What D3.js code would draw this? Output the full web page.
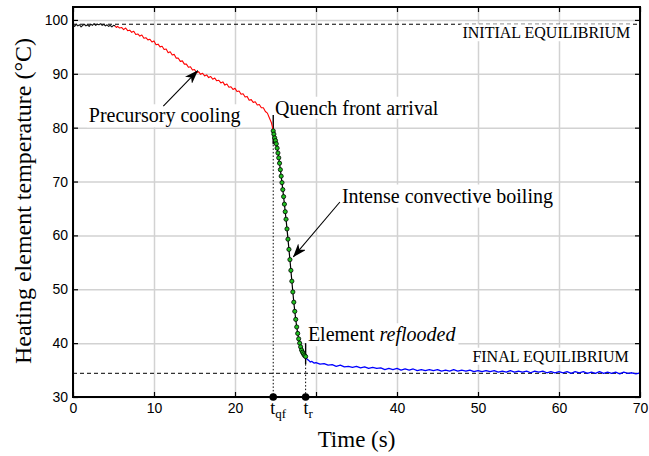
<!DOCTYPE html>
<html>
<head>
<meta charset="utf-8">
<script src="https://cdn.jsdelivr.net/npm/d3@7"></script>
<style>
  html, body { margin: 0; padding: 0; background: #fff; }
  svg { display: block; }
</style>
</head>
<body>
<div id="chart"></div>
<script>
// ---- Data ------------------------------------------------------------------
// initial equilibrium, black trace: [time s, temperature °C]
const initialTrace = [
  [0.0, 99.1], [0.2, 98.8], [0.4, 99.2], [0.6, 98.9], [0.8, 99.1], [1.0, 98.7],
  [1.2, 99.0], [1.4, 99.2], [1.6, 98.9], [1.8, 99.1], [2.0, 98.8], [2.2, 99.2],
  [2.4, 99.0], [2.6, 99.3], [2.8, 99.0], [3.0, 99.2], [3.2, 99.1], [3.4, 99.3],
  [3.6, 99.0], [3.8, 99.2], [4.0, 98.9], [4.2, 99.1], [4.4, 98.8], [4.6, 99.0],
  [4.8, 98.7], [5.0, 99.0], [5.2, 98.9]
];
// precursory cooling, red trace
const precursoryTrace = [
  [5.2, 98.9], [5.35, 98.6], [5.5, 98.8], [5.75, 98.5], [6.0, 98.6], [6.25, 98.2],
  [6.5, 98.5], [6.75, 98.0], [7.0, 98.1], [7.25, 97.7], [7.5, 97.9], [7.75, 97.3],
  [8.0, 97.4], [8.25, 97.0], [8.5, 97.2], [8.75, 96.6], [9.0, 96.7], [9.25, 96.3],
  [9.5, 96.4], [9.75, 95.9], [10.0, 96.1], [10.25, 95.4], [10.5, 95.5], [10.75, 95.0],
  [11.0, 95.1], [11.25, 94.5], [11.5, 94.6], [11.75, 93.9], [12.0, 94.1], [12.25, 93.5],
  [12.5, 93.6], [12.75, 92.9], [13.0, 92.9], [13.25, 92.3], [13.5, 92.4], [13.75, 91.8],
  [14.0, 91.8], [14.25, 91.2], [14.5, 91.3], [14.75, 90.7], [15.0, 90.8], [15.25, 90.2],
  [15.5, 90.4], [15.75, 89.9], [16.0, 90.1], [16.25, 89.6], [16.5, 89.8], [16.75, 89.3],
  [17.0, 89.5], [17.25, 89.0], [17.5, 89.2], [17.75, 88.7], [18.0, 88.8], [18.25, 88.3],
  [18.5, 88.5], [18.75, 87.9], [19.0, 88.1], [19.25, 87.5], [19.5, 87.6], [19.75, 87.1],
  [20.0, 87.3], [20.25, 86.7], [20.5, 86.8], [20.75, 86.2], [21.0, 86.3], [21.25, 85.7],
  [21.5, 85.8], [21.75, 85.1], [22.0, 85.2], [22.25, 84.7], [22.5, 84.8], [22.75, 84.2],
  [23.0, 84.3], [23.25, 83.7], [23.5, 83.7], [23.75, 83.0], [24.0, 82.7], [24.25, 81.8],
  [24.5, 80.9], [24.62, 80.1], [24.72, 79.4]
];
// intense convective boiling, green markers on black line
const boilingTrace = [
  [24.72, 79.4], [24.80, 78.8], [24.90, 78.1], [25.00, 77.6], [25.10, 77.0], [25.20, 76.2],
  [25.30, 75.3], [25.40, 74.4], [25.50, 73.4], [25.60, 72.2], [25.70, 71.0], [25.80, 69.8],
  [25.90, 68.5], [26.00, 67.2], [26.10, 65.8], [26.20, 64.4], [26.30, 63.0], [26.42, 61.2],
  [26.54, 59.3], [26.66, 57.4], [26.78, 55.5], [26.90, 53.5], [27.02, 51.5], [27.14, 49.5],
  [27.26, 47.6], [27.38, 45.9], [27.50, 44.4], [27.62, 43.0], [27.74, 41.8], [27.86, 40.8],
  [27.98, 40.0], [28.10, 39.3], [28.22, 38.7], [28.34, 38.3], [28.46, 38.0], [28.58, 37.7],
  [28.72, 37.5]
];
// reflooded, blue trace
const refloodTrace = [
  [28.72, 37.5], [28.9, 37.0], [29.1, 36.8], [29.3, 36.5], [29.5, 36.6], [29.75, 36.3],
  [30.0, 36.4], [30.5, 36.1], [31.0, 36.2], [31.5, 35.9], [32.0, 36.0], [32.5, 35.7],
  [33.0, 35.9], [33.5, 35.6], [34.0, 35.7], [34.5, 35.5], [35.0, 35.7], [35.5, 35.4],
  [36.0, 35.6], [36.5, 35.3], [37.0, 35.5], [37.5, 35.3], [38.0, 35.4], [38.5, 35.1],
  [39.0, 35.3], [39.5, 35.1], [40.0, 35.3], [40.5, 35.0], [41.0, 35.2], [41.5, 35.0],
  [42.0, 35.2], [42.5, 34.9], [43.0, 35.1], [43.5, 34.9], [44.0, 35.1], [44.5, 34.9],
  [45.0, 35.1], [45.5, 34.8], [46.0, 35.0], [46.5, 34.8], [47.0, 35.1], [47.5, 34.8],
  [48.0, 35.0], [48.5, 34.8], [49.0, 35.0], [49.5, 34.7], [50.0, 34.9], [50.5, 34.7],
  [51.0, 34.9], [51.5, 34.7], [52.0, 34.9], [52.5, 34.6], [53.0, 34.8], [53.5, 34.6],
  [54.0, 34.9], [54.5, 34.6], [55.0, 34.8], [55.5, 34.6], [56.0, 34.8], [56.5, 34.5],
  [57.0, 34.8], [57.5, 34.6], [58.0, 34.8], [58.5, 34.5], [59.0, 34.7], [59.5, 34.5],
  [60.0, 34.7], [60.5, 34.5], [61.0, 34.7], [61.5, 34.4], [62.0, 34.7], [62.5, 34.5],
  [63.0, 34.7], [63.5, 34.4], [64.0, 34.6], [64.5, 34.4], [65.0, 34.7], [65.5, 34.4],
  [66.0, 34.6], [66.5, 34.4], [67.0, 34.6], [67.5, 34.3], [68.0, 34.6], [68.5, 34.4],
  [69.0, 34.5], [69.5, 34.3], [70.0, 34.5]
];
const initialEquilibrium = 99.2;
const finalEquilibrium = 34.4;
const tQuench = 24.72;
const tReflood = 28.72;

const xTicks = [0, 10, 20, 30, 40, 50, 60, 70];
const xTickLabels = ["0", "10", "20", "", "40", "50", "60", "70"];
const yTicks = [30, 40, 50, 60, 70, 80, 90, 100];

// ---- Layout ----------------------------------------------------------------
const W = 649, H = 456;
const M = { left: 73, right: 9, top: 7, bottom: 59 };
const SERIF = "'Liberation Serif', 'Times New Roman', serif";
const SANS = "'Liberation Sans', Arial, sans-serif";

const svg = d3.select("#chart").append("svg").attr("width", W).attr("height", H);
const x = d3.scaleLinear().domain([0, 70]).range([M.left, W - M.right]);
const y = d3.scaleLinear().domain([30, 102.4]).range([H - M.bottom, M.top]);
const X0 = x.range()[0], X1 = x.range()[1], Y0 = y.range()[0], Y1 = y.range()[1];

// ---- Grid ------------------------------------------------------------------
svg.append("g")
  .attr("transform", `translate(0,${Y0})`)
  .call(d3.axisBottom(x).tickValues(xTicks).tickSize(-(Y0 - Y1)).tickFormat(""))
  .call((g) => g.select(".domain").remove())
  .call((g) => g.selectAll("line").attr("stroke", "#d2d2d2").attr("stroke-width", 1.5));
svg.append("g")
  .attr("transform", `translate(${X0},0)`)
  .call(d3.axisLeft(y).tickValues(yTicks).tickSize(-(X1 - X0)).tickFormat(""))
  .call((g) => g.select(".domain").remove())
  .call((g) => g.selectAll("line").attr("stroke", "#d2d2d2").attr("stroke-width", 1.5));

// ---- Equilibrium lines -----------------------------------------------------
[initialEquilibrium, finalEquilibrium].forEach((v) => {
  svg.append("line")
    .attr("x1", X0).attr("x2", X1).attr("y1", y(v)).attr("y2", y(v))
    .attr("stroke", "#000").attr("stroke-width", 1).attr("stroke-dasharray", "4,3");
});

// ---- Label with white box --------------------------------------------------
function label(t, v, str, opts = {}) {
  const g = svg.append("g");
  const box = g.append("rect").attr("fill", "#fff");
  const txt = g.append("text")
    .attr("x", x(t)).attr("y", y(v))
    .attr("text-anchor", opts.anchor || "start")
    .style("font-family", SERIF).style("font-size", (opts.size || 20) + "px")
    .attr("fill", "#000");
  if (Array.isArray(str)) {
    str.forEach((s) => txt.append("tspan").attr("font-style", s.italic ? "italic" : null).text(s.t));
  } else {
    txt.text(str);
  }
  const b = txt.node().getBBox();
  const p = opts.pad || 2;
  box.attr("x", b.x - p).attr("y", b.y - p + 2).attr("width", b.width + 2 * p).attr("height", b.height + 2 * p - 4);
  return g;
}

label(68.8, 96.6, "INITIAL EQUILIBRIUM", { anchor: "end", size: 16 });
label(68.6, 36.55, "FINAL EQUILIBRIUM", { anchor: "end", size: 16 });
label(1.95, 81.0, "Precursory cooling");
label(24.95, 82.4, "Quench front arrival");
label(33.2, 66.1, "Intense convective boiling");
label(29.0, 40.35, [{ t: "Element " }, { t: "reflooded", italic: true }]);

// ---- Markers for event times ----------------------------------------------
svg.append("line")
  .attr("x1", x(tQuench)).attr("x2", x(tQuench)).attr("y1", y(79.4)).attr("y2", Y0)
  .attr("stroke", "#000").attr("stroke-width", 1).attr("stroke-dasharray", "1.5,2");
svg.append("line")
  .attr("x1", x(tReflood)).attr("x2", x(tReflood)).attr("y1", y(36.1)).attr("y2", Y0)
  .attr("stroke", "#000").attr("stroke-width", 1).attr("stroke-dasharray", "1.5,2");
svg.append("line")
  .attr("x1", x(tQuench)).attr("x2", x(tQuench)).attr("y1", y(82.35)).attr("y2", y(76.9))
  .attr("stroke", "#000").attr("stroke-width", 1.4);
svg.append("line")
  .attr("x1", x(tReflood)).attr("x2", x(tReflood)).attr("y1", y(40.0)).attr("y2", y(36.1))
  .attr("stroke", "#000").attr("stroke-width", 1.4);

// ---- Traces ----------------------------------------------------------------
const line = d3.line().x((d) => x(d[0])).y((d) => y(d[1]));
const trace = (data, color, w) =>
  svg.append("path").datum(data).attr("d", line)
    .attr("fill", "none").attr("stroke", color).attr("stroke-width", w).attr("stroke-linejoin", "round");

trace(initialTrace, "#111", 1.1);
trace(precursoryTrace, "#ff0000", 1.1);
trace(refloodTrace, "#0000ff", 1.3);
trace(boilingTrace, "#000", 1.2);
svg.append("g")
  .selectAll("circle")
  .data(boilingTrace)
  .join("circle")
  .attr("cx", (d) => x(d[0])).attr("cy", (d) => y(d[1])).attr("r", 2.1)
  .attr("fill", "#1fc01f").attr("stroke", "#000").attr("stroke-width", 0.8);

// ---- Arrows ----------------------------------------------------------------
svg.append("defs").append("marker")
  .attr("id", "arrow")
  .attr("markerUnits", "userSpaceOnUse")
  .attr("viewBox", "0 0 14 10")
  .attr("refX", 13.5).attr("refY", 5)
  .attr("markerWidth", 14).attr("markerHeight", 10)
  .attr("orient", "auto")
  .append("path")
  .attr("d", "M0,0 L14,5 L0,10 L4,5 Z")
  .attr("fill", "#000");

function arrow(t0, v0, t1, v1) {
  svg.append("line")
    .attr("x1", x(t0)).attr("y1", y(v0)).attr("x2", x(t1)).attr("y2", y(v1))
    .attr("stroke", "#000").attr("stroke-width", 1.1).attr("marker-end", "url(#arrow)");
}
arrow(11.15, 84.0, 15.4, 90.6);
arrow(32.95, 66.2, 27.2, 56.0);

// ---- Axes (inward ticks on all four sides) ---------------------------------
const styleAxis = (g) => {
  g.select(".domain").remove();
  g.selectAll("line").attr("stroke", "#000").attr("stroke-width", 1.2);
  g.selectAll("text").style("font-family", SANS).style("font-size", "14px").attr("fill", "#000");
};
svg.append("g").attr("transform", `translate(0,${Y0})`)
  .call(d3.axisBottom(x).tickValues(xTicks).tickSize(-5).tickPadding(6)
    .tickFormat((d, i) => xTickLabels[i]))
  .call(styleAxis);
svg.append("g").attr("transform", `translate(0,${Y1})`)
  .call(d3.axisTop(x).tickValues(xTicks).tickSize(-5).tickFormat(""))
  .call(styleAxis);
svg.append("g").attr("transform", `translate(${X0},0)`)
  .call(d3.axisLeft(y).tickValues(yTicks).tickSize(-5).tickPadding(5))
  .call(styleAxis);
svg.append("g").attr("transform", `translate(${X1},0)`)
  .call(d3.axisRight(y).tickValues(yTicks).tickSize(-5).tickFormat(""))
  .call(styleAxis);

svg.append("rect")
  .attr("x", X0).attr("y", Y1).attr("width", X1 - X0).attr("height", Y0 - Y1)
  .attr("fill", "none").attr("stroke", "#000").attr("stroke-width", 2);

// event dots on the time axis + their labels
svg.append("g")
  .selectAll("circle")
  .data([tQuench, tReflood])
  .join("circle")
  .attr("cx", (d) => x(d)).attr("cy", Y0).attr("r", 3.8).attr("fill", "#000");

const tLabel = (t, sub) => {
  const txt = svg.append("text")
    .attr("x", x(t)).attr("y", Y0 + 17)
    .attr("text-anchor", "middle")
    .style("font-family", SERIF).style("font-size", "18px");
  txt.append("tspan").text("t");
  txt.append("tspan").attr("dy", 4).style("font-size", "13px").text(sub);
};
tLabel(tQuench + 0.6, "qf");
tLabel(tReflood + 0.3, "r");

// ---- Axis titles -----------------------------------------------------------
svg.append("text")
  .attr("x", (X0 + X1) / 2).attr("y", 447)
  .attr("text-anchor", "middle")
  .style("font-family", SERIF).style("font-size", "23px")
  .text("Time (s)");
svg.append("text")
  .attr("transform", `translate(31,201) rotate(-90)`)
  .attr("text-anchor", "middle")
  .style("font-family", SERIF).style("font-size", "24px")
  .text("Heating element temperature (°C)");
</script>
</body>
</html>
